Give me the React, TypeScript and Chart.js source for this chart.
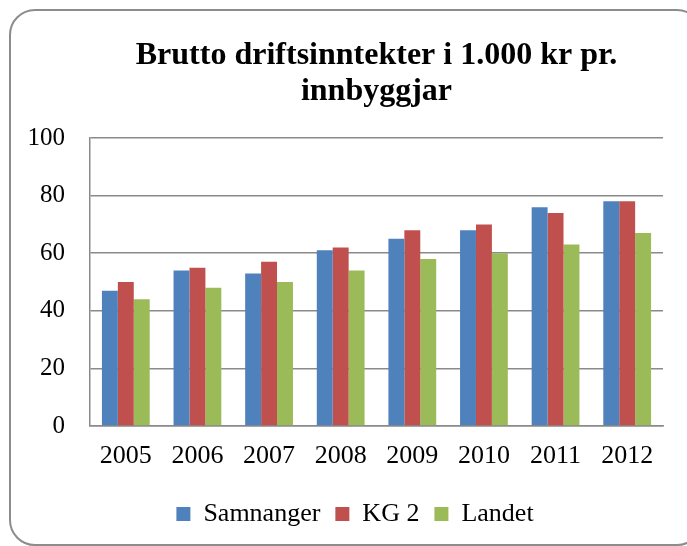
import React, { useEffect, useRef } from "react";
import { Chart, registerables } from "chart.js";

Chart.register(...registerables);

const years = ["2005", "2006", "2007", "2008", "2009", "2010", "2011", "2012"];
const samnanger = [47, 54, 53, 61, 65, 68, 76, 78];
const kg2 = [50, 55, 57, 62, 68, 70, 74, 78];
const landet = [44, 48, 50, 54, 58, 60, 63, 67];
const titleLines = ["Brutto driftsinntekter i 1.000 kr pr.", "innbyggjar"];

const FONT = "'Liberation Serif', 'Times New Roman', serif";
const GRID = "#8a8a8a";

export default function App() {
  const ref = useRef<HTMLCanvasElement | null>(null);

  useEffect(() => {
    if (!ref.current) return;
    const chart = new Chart(ref.current, {
      type: "bar",
      data: {
        labels: years,
        datasets: [
          { label: "Samnanger", data: samnanger, backgroundColor: "#4F81BD" },
          { label: "KG 2", data: kg2, backgroundColor: "#C0504D" },
          { label: "Landet", data: landet, backgroundColor: "#9BBB59" },
        ],
      },
      options: {
        responsive: false,
        animation: false,
        layout: { padding: { left: 23, right: 0, top: 0, bottom: 9 } },
        datasets: {
          bar: { categoryPercentage: 0.667, barPercentage: 1.0 },
        },
        plugins: {
          title: {
            display: true,
            text: titleLines,
            fullSize: false,
            color: "#000",
            font: { family: FONT, size: 32, weight: "bold", lineHeight: 1.125 },
            padding: { top: 38, bottom: 28 },
          },
          legend: {
            position: "bottom",
            labels: {
              color: "#000",
              font: { family: FONT, size: 26 },
              boxWidth: 14,
              boxHeight: 14,
              padding: 15,
            },
          },
          tooltip: { enabled: false },
        },
        scales: {
          x: {
            grid: { display: false, drawTicks: false },
            border: { display: true, color: GRID, width: 1.5 },
            ticks: {
              color: "#000",
              font: { family: FONT, size: 26, lineHeight: 1.19 },
              padding: 14.5,
              maxRotation: 0,
            },
          },
          y: {
            min: 0,
            max: 100,
            afterFit: (s: any) => {
              s.width = 67;
            },
            grid: { color: GRID, lineWidth: 1.5, drawTicks: false },
            border: { display: true, color: GRID, width: 1.5 },
            ticks: {
              stepSize: 20,
              color: "#000",
              font: { family: FONT, size: 25 },
              padding: 25,
            },
          },
          y2: {
            position: "right",
            display: true,
            afterFit: (s: any) => {
              s.width = 24;
            },
            grid: { display: false, drawTicks: false },
            border: { display: false },
            ticks: { display: false },
          },
        },
      },
    });
    return () => chart.destroy();
  }, []);

  return (
    <div
      style={{
        position: "fixed",
        left: 0,
        top: 0,
        width: 687,
        height: 546,
        overflow: "hidden",
        background: "#fff",
      }}
    >
      <canvas ref={ref} width={687} height={546} style={{ display: "block" }} />
      <div
        style={{
          position: "absolute",
          left: 9,
          top: 9,
          width: 690,
          height: 533,
          border: "2px solid #8c8c8c",
          borderRadius: 26,
          pointerEvents: "none",
        }}
      />
    </div>
  );
}
